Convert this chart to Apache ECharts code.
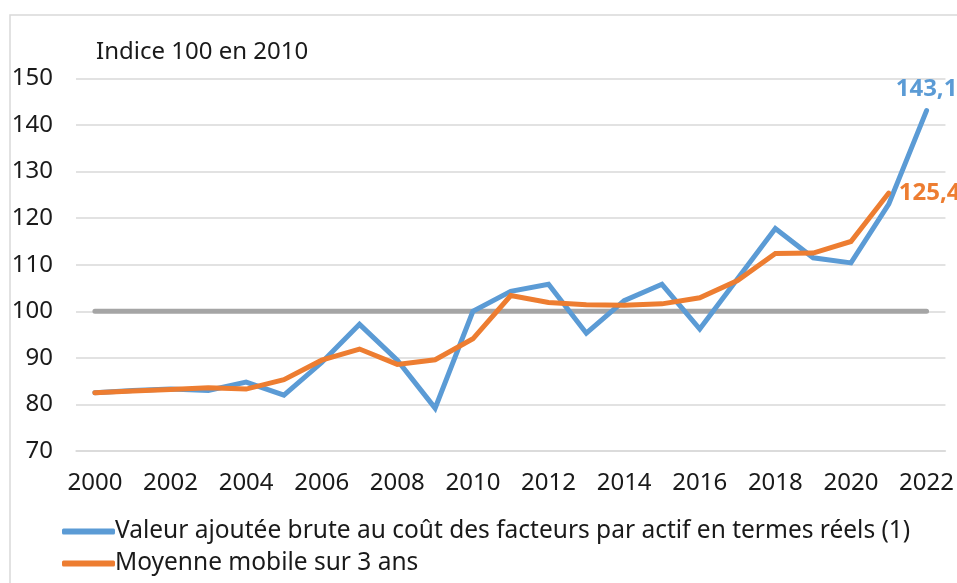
<!DOCTYPE html>
<html>
<head>
<meta charset="utf-8">
<script src="https://cdn.jsdelivr.net/npm/echarts@6/dist/echarts.min.js"></script>
<style>
  html, body { margin: 0; padding: 0; background: #fff; }
  #chart { width: 957px; height: 583px; }
</style>
</head>
<body>
<div id="chart"></div>
<script>
const years = ['2000', '2001', '2002', '2003', '2004', '2005', '2006', '2007', '2008', '2009', '2010', '2011',
  '2012', '2013', '2014', '2015', '2016', '2017', '2018', '2019', '2020', '2021', '2022']
// valeur ajoutée brute par actif, indice 100 en 2010
const vab = [82.5, 83.0, 83.3, 83.0, 84.8, 82.0, 89.0, 97.2, 89.5, 79.2, 100.0, 104.3,
  105.8, 95.3, 102.3, 105.8, 96.2, 107.0, 117.8, 111.5, 110.4, 123.0, 143.1]
// moyenne mobile sur 3 ans (pas de valeur pour 2022)
const moyenne = [82.5, 82.9, 83.2, 83.6, 83.3, 85.3, 89.5, 91.9, 88.6, 89.6, 94.1, 103.4,
  101.9, 101.4, 101.3, 101.6, 102.9, 106.6, 112.4, 112.5, 115.0, 125.4, null]
const base100 = [100, 100, 100, 100, 100, 100, 100, 100, 100, 100, 100, 100,
  100, 100, 100, 100, 100, 100, 100, 100, 100, 100, 100]
const yTicks = [70, 80, 90, 100, 110, 120, 130, 140, 150]

const FONT = '"Noto Sans", sans-serif'
const FS = 24
const chart = echarts.init(document.getElementById('chart'))

const lastLabel = (color, pos, dist, offset) => ({
  show: true,
  position: pos,
  distance: dist,
  offset: offset,
  color: color,
  fontFamily: FONT,
  fontSize: FS,
  fontWeight: 'bold',
  formatter: p => String(p.value).replace('.', ',')
})

const option = {
  animation: false,
  backgroundColor: '#fff',
  textStyle: { fontFamily: FONT, color: '#1a1a1a' },
  graphic: [
    {
      type: 'rect',
      shape: { x: 10, y: 15, width: 1000, height: 1000 },
      style: { fill: 'none', stroke: '#d9d9d9', lineWidth: 1.5 },
      silent: true
    },
    {
      type: 'text',
      left: 96,
      top: 40,
      style: { text: 'Indice 100 en 2010', fontFamily: FONT, fontSize: FS, fill: '#1a1a1a' }
    }
  ],
  grid: { left: 76, right: 11, top: 78.5, bottom: 132 },
  legend: {
    orient: 'vertical',
    left: 57,
    top: 514,
    itemWidth: 53,
    itemHeight: 6,
    itemGap: 7,
    icon: 'roundRect',
    textStyle: { fontFamily: FONT, fontSize: 24.5, color: '#1a1a1a', padding: [0, 0, 0, -5] },
    data: [
      'Valeur ajoutée brute au coût des facteurs par actif en termes réels (1)',
      'Moyenne mobile sur 3 ans'
    ]
  },
  xAxis: {
    type: 'category',
    data: years,
    boundaryGap: true,
    axisLine: { show: true, lineStyle: { color: '#d9d9d9', width: 1.5 } },
    axisTick: { show: false },
    axisLabel: { interval: 1, fontSize: FS, color: '#1a1a1a', margin: 20, fontFamily: FONT }
  },
  yAxis: {
    type: 'value',
    min: yTicks[0],
    max: yTicks[yTicks.length - 1],
    interval: 10,
    axisLine: { show: false },
    axisTick: { show: false },
    splitLine: { lineStyle: { color: '#d9d9d9', width: 1.5 } },
    axisLabel: { fontSize: FS, color: '#1a1a1a', margin: 23, fontFamily: FONT }
  },
  series: [
    {
      name: 'base',
      type: 'line',
      data: base100,
      symbol: 'none',
      lineStyle: { color: '#a5a5a5', width: 5, cap: 'round' },
      silent: true,
      z: 1
    },
    {
      name: 'Valeur ajoutée brute au coût des facteurs par actif en termes réels (1)',
      type: 'line',
      data: vab.map((v, i) => i === vab.length - 1 ? { value: v, label: lastLabel('#5b9bd5', 'top', 9, [5, 0]) } : v),
      symbol: 'circle',
      symbolSize: 0,
      showSymbol: true,
      color: '#5b9bd5',
      labelLayout: { hideOverlap: false },
      lineStyle: { color: '#5b9bd5', width: 5, cap: 'round', join: 'miter' },
      z: 2
    },
    {
      name: 'Moyenne mobile sur 3 ans',
      type: 'line',
      data: moyenne.map((v, i) => i === 21 ? { value: v, label: lastLabel('#ed7d31', 'right', 10, [2, 3]) } : v),
      symbol: 'circle',
      symbolSize: 0,
      showSymbol: true,
      color: '#ed7d31',
      labelLayout: { hideOverlap: false },
      lineStyle: { color: '#ed7d31', width: 5, cap: 'round', join: 'miter' },
      z: 3
    }
  ]
}

chart.setOption(option)
</script>
</body>
</html>
